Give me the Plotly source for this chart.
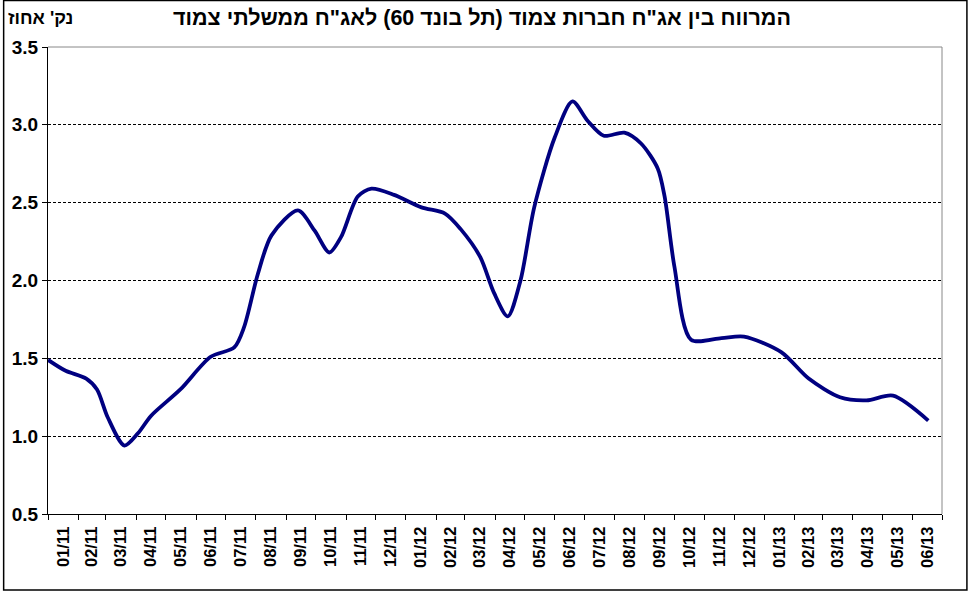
import plotly.graph_objects as go

# spread between indexed corporate bonds (Tel Bond 60) and indexed government bonds
dates = [
    "2011-01-01", "2011-01-19", "2011-02-09", "2011-02-20", "2011-03-03",
    "2011-03-20", "2011-04-03", "2011-04-16", "2011-05-16", "2011-06-16",
    "2011-07-10", "2011-07-20", "2011-08-03", "2011-08-17", "2011-09-13",
    "2011-09-30", "2011-10-15", "2011-10-27", "2011-11-13", "2011-11-27",
    "2011-12-20", "2012-01-17", "2012-02-10", "2012-02-26", "2012-03-17",
    "2012-03-31", "2012-04-14", "2012-04-27", "2012-05-11", "2012-06-01",
    "2012-06-19", "2012-07-04", "2012-07-21", "2012-08-11", "2012-08-28",
    "2012-09-14", "2012-09-21", "2012-10-01", "2012-10-18", "2012-11-18",
    "2012-12-11", "2013-01-18", "2013-02-15", "2013-03-19", "2013-04-15",
    "2013-05-12", "2013-06-17",
]
spread = [
    1.49, 1.42, 1.37, 1.30, 1.12,
    0.94, 1.02, 1.13, 1.30, 1.51,
    1.57, 1.70, 2.04, 2.29, 2.45,
    2.32, 2.18, 2.28, 2.54, 2.59,
    2.55, 2.47, 2.43, 2.33, 2.15,
    1.92, 1.77, 2.00, 2.47, 2.92,
    3.15, 3.03, 2.93, 2.95, 2.88,
    2.72, 2.54, 2.09, 1.62, 1.63,
    1.64, 1.54, 1.37, 1.25, 1.23,
    1.26, 1.10,
]
y_ticks = [0.5, 1.0, 1.5, 2.0, 2.5, 3.0, 3.5]

title_text = 'המרווח בין אג"ח חברות צמוד (תל בונד 60) לאג"ח ממשלתי צמוד'
unit_text = "נק' אחוז"

FONT = "Liberation Sans, Arial, sans-serif"

fig = go.Figure()
fig.add_trace(go.Scatter(
    x=dates,
    y=spread,
    mode="lines",
    line=dict(color="#000080", width=3.8, shape="spline", smoothing=0.8),
    showlegend=False,
    hoverinfo="x+y",
))

# plot area in pixels: x 45..942, y 47..514
pl, pr, pt, pb = 45, 942, 47, 514
W, H = 968, 591
def px_x(x):
    return (x - pl) / (pr - pl)
def px_y(y):
    return (pb - y) / (pb - pt)

fig.update_layout(
    width=W,
    height=H,
    margin=dict(l=pl, r=W - pr, t=pt, b=H - pb),
    paper_bgcolor="white",
    plot_bgcolor="white",
    font=dict(family=FONT, color="black"),
    xaxis=dict(
        type="date",
        range=["2011-01-01", "2013-07-01"],
        dtick="M1",
        tick0="2011-01-01",
        tickformat="%m/%y",
        ticklabelmode="period",
        tickangle=-90,
        ticks="outside",
        ticklen=5,
        tickcolor="black",
        showgrid=False,
        showline=True,
        linecolor="black",
        linewidth=1,
        tickfont=dict(size=16.5, family=FONT, color="black", weight="bold"),
    ),
    yaxis=dict(
        range=[0.5, 3.5],
        tickvals=y_ticks,
        tickformat=".1f",
        ticks="outside",
        ticklen=5,
        tickcolor="black",
        showgrid=True,
        gridcolor="black",
        gridwidth=1,
        griddash="3px,2px",
        showline=True,
        linecolor="black",
        linewidth=1,
        zeroline=False,
        tickfont=dict(size=19, family=FONT, color="black", weight="bold"),
    ),
    shapes=[
        # gray top and right edges of the plot area
        dict(type="line", xref="paper", yref="paper", x0=0, x1=1, y0=1, y1=1,
             line=dict(color="#888888", width=1)),
        dict(type="line", xref="paper", yref="paper", x0=1, x1=1, y0=0, y1=1,
             line=dict(color="#888888", width=1)),
        # outer chart border
        dict(type="rect", xref="paper", yref="paper",
             x0=px_x(0.5), x1=px_x(W - 1), y0=px_y(H - 1), y1=px_y(0.5),
             line=dict(color="black", width=1.5)),
    ],
    annotations=[
        dict(text=title_text, xref="paper", yref="paper",
             x=px_x(480), y=px_y(18), xanchor="center", yanchor="middle",
             showarrow=False,
             font=dict(size=21.5, family=FONT, color="black", weight="bold")),
        dict(text=unit_text, xref="paper", yref="paper",
             x=px_x(37), y=px_y(18), xanchor="center", yanchor="middle",
             showarrow=False,
             font=dict(size=18, family=FONT, color="black", weight="bold")),
    ],
)

# drop the page margin so the chart sits at the window corner
fig.write_html("out.html", config={"displayModeBar": False},
               post_script="document.body.style.margin='0';")
